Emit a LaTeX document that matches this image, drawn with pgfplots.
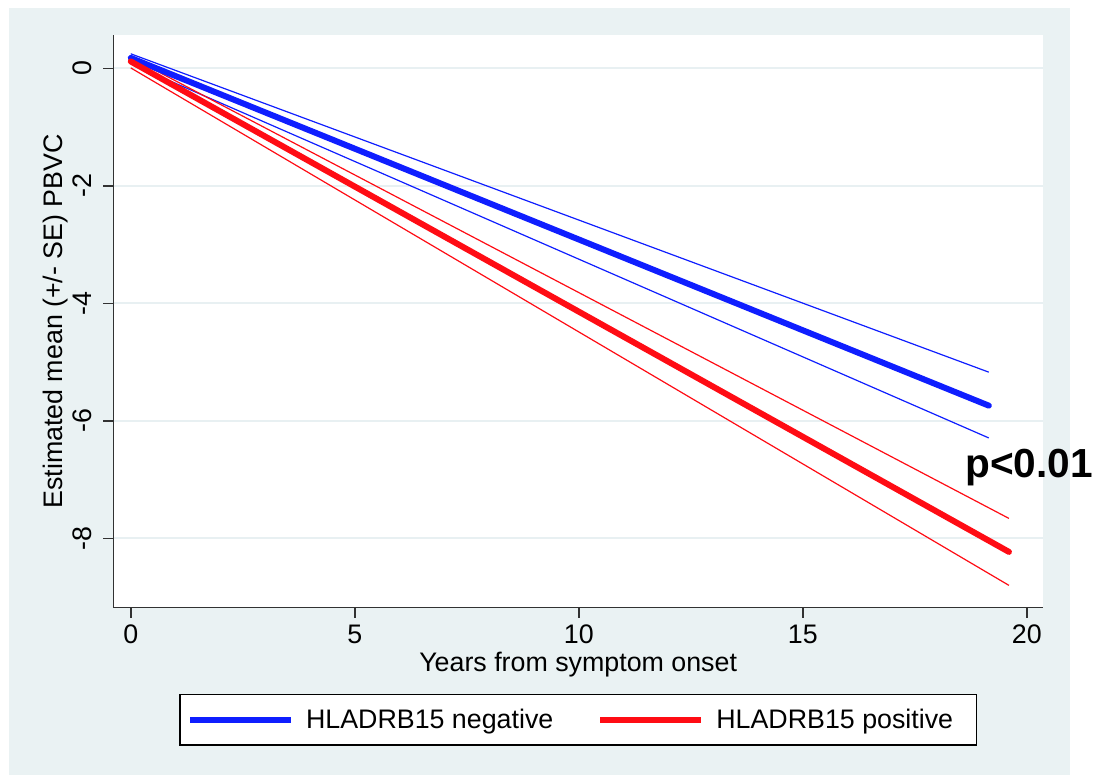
\documentclass[border=0pt]{standalone}
\usepackage{fontspec}
\setmainfont{Liberation Sans}
\usepackage{pgfplots}
\pgfplotsset{compat=1.18}
\definecolor{bgpanel}{RGB}{234,242,243}
\definecolor{gridc}{RGB}{232,240,242}
\definecolor{axc}{RGB}{50,50,50}
\definecolor{sblue}{RGB}{15,30,255}
\definecolor{sred}{RGB}{255,12,20}
\begin{document}
\begin{tikzpicture}
\useasboundingbox (0,0) rectangle (552.5pt,388pt);
\fill[white] (0,0) rectangle (552.5pt,388pt);
\fill[bgpanel] (4.5pt,0.5pt) rectangle (535pt,384pt);
\begin{axis}[
 at={(56.65pt,84.15pt)}, anchor=south west,
 scale only axis, width=464.85pt, height=286.35pt,
 xmin=-0.39, xmax=20.36, ymin=-9.18, ymax=0.57,
 clip=false,
 axis x line*=bottom, axis y line*=left,
 axis line style={-, axc, line width=0.75pt},
 axis background/.style={fill=white},
 xtick={0,5,10,15,20}, ytick={-8,-6,-4,-2,0},
 tick align=outside, major tick length=5pt,
 tick style={axc, line width=0.75pt},
 ymajorgrids, grid style={gridc, line width=1pt},
 /pgf/number format/assume math mode=true,
 ticklabel style={font=\fontsize{13.4}{16}\selectfont, inner sep=0pt},
 xticklabel style={anchor=north},
 yticklabel style={rotate=90, anchor=south},
 xticklabel shift=3.5pt,
 yticklabel shift=5.5pt,
 label style={font=\fontsize{13.4}{16}\selectfont},
 xlabel={Years from symptom onset},
 ylabel={Estimated mean (+/- SE) PBVC},
 xlabel style={at={(axis description cs:0.5,-0.11228)}, anchor=base},
 ylabel style={at={(axis description cs:-0.05486,0.5)}, anchor=base},
 legend style={at={(axis description cs:0.5,-0.15069)}, anchor=north,
   font=\fontsize{13.4}{16}\selectfont, draw=black, line width=0.6pt, fill=white,
   inner xsep=3.5pt, inner ysep=5pt,
   /tikz/every even column/.append style={column sep=20pt}},
 legend columns=2,
 legend image code/.code={\draw[#1, line cap=butt] (0pt,0pt) -- (50.5pt,0pt); \path (54.5pt,0pt);},
]
% blue CI
\addplot[sblue, line width=0.6pt, forget plot] coordinates {(0,0.25) (19.15,-5.17)};
\addplot[sblue, line width=0.6pt, forget plot] coordinates {(0,0.08) (19.15,-6.29)};
% red CI
\addplot[sred, line width=0.6pt, forget plot] coordinates {(0,0.19) (19.6,-7.66)};
\addplot[sred, line width=0.6pt, forget plot] coordinates {(0,0.01) (19.6,-8.80)};
% means
\addplot[sblue, line width=3pt, line cap=round] coordinates {(0,0.18) (19.15,-5.74)};
\addlegendentry{HLADRB15 negative}
\addplot[sred, line width=3pt, line cap=round] coordinates {(0,0.12) (19.6,-8.23)};
\addlegendentry{HLADRB15 positive\hspace*{6pt}}
\node[anchor=base west, inner sep=0pt, font=\bfseries\fontsize{20.3}{24}\selectfont] at (axis cs:18.62,-6.96) {p<0.01};
\end{axis}
\end{tikzpicture}
\end{document}
